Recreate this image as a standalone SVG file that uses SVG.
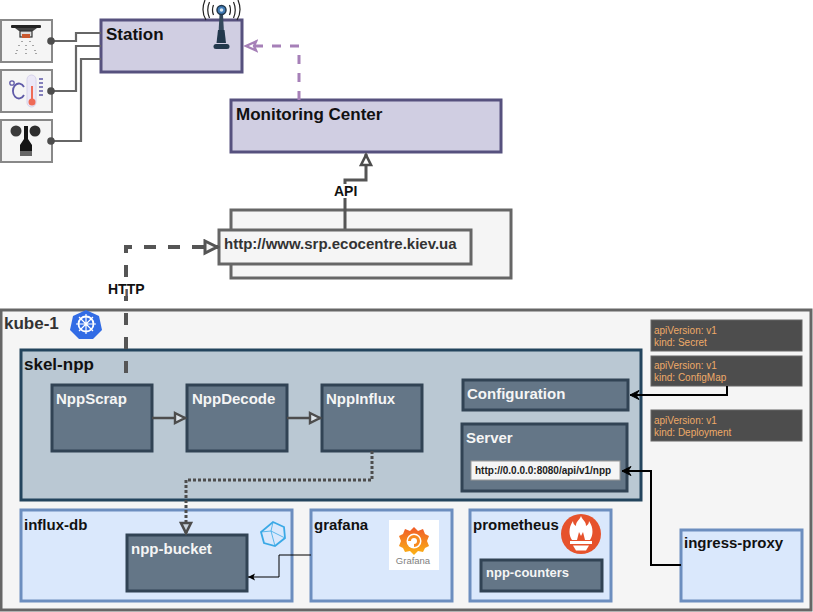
<svg xmlns="http://www.w3.org/2000/svg" width="813" height="612" viewBox="0 0 813 612">
<style>
text{font-family:"Liberation Sans",Arial,sans-serif;font-weight:bold}
.t15{font-size:15px}.t17{font-size:17px;fill:#111}
.w{fill:#f5f5f5;font-size:15px}
.icon{fill:#f5f5f5;stroke:#888;stroke-width:2}
.purple{fill:#d0cee2;stroke:#56517e;stroke-width:3}
.grey{fill:#f5f5f5;stroke:#666;stroke-width:3}
.slate{fill:#647687;stroke:#314354;stroke-width:3}
.blue{fill:#dae8fc;stroke:#6c8ebf;stroke-width:3}
.card{fill:#4d4d4d;stroke:#666;stroke-width:1}
.card-t{font-family:"Liberation Sans",Arial,sans-serif;font-weight:normal;font-size:10px;fill:#eeaa68}
.wire{fill:none;stroke:#666;stroke-width:2.200}
.c{fill:none}
</style>
<defs>
<marker id="open" markerWidth="16" markerHeight="16" refX="13" refY="7" orient="auto" markerUnits="userSpaceOnUse"><path d="M2 2L12 7L2 12Z" fill="#dfe6ec" stroke="#4d4d4d" stroke-width="2.400"/></marker>
<marker id="openW" markerWidth="16" markerHeight="16" refX="13" refY="7" orient="auto" markerUnits="userSpaceOnUse"><path d="M2 2L12 7L2 12Z" fill="#fff" stroke="#4d4d4d" stroke-width="2.600"/></marker>
<marker id="openP" markerWidth="16" markerHeight="16" refX="13" refY="7" orient="auto" markerUnits="userSpaceOnUse"><path d="M2 2.500L12 7L2 11.500L4 7Z" fill="#fff" stroke="#a680b8" stroke-width="2.400"/></marker>
<marker id="dark" markerWidth="18" markerHeight="18" refX="15" refY="8" orient="auto" markerUnits="userSpaceOnUse"><path d="M2 2L14 8L2 14Z" fill="#f5f5f5" stroke="#555" stroke-width="3"/></marker>
<marker id="dot" markerWidth="16" markerHeight="16" refX="13" refY="7" orient="auto" markerUnits="userSpaceOnUse"><path d="M2 2L12 7L2 12Z" fill="#c9d3dc" stroke="#4d4d4d" stroke-width="2.600"/></marker>
<marker id="bl" markerWidth="12" markerHeight="12" refX="10" refY="5" orient="auto" markerUnits="userSpaceOnUse"><path d="M1 0.500L10 5L1 9.500L4 5Z" fill="#000" stroke="#000"/></marker>
<marker id="blThin" markerWidth="10" markerHeight="10" refX="8" refY="4" orient="auto" markerUnits="userSpaceOnUse"><path d="M1 0.500L8 4L1 7.500L2.500 4Z" fill="#000"/></marker>
<linearGradient id="gf" x1="0" y1="1" x2="0" y2="0"><stop offset="0" stop-color="#fbb315"/><stop offset="1" stop-color="#f05a28"/></linearGradient>
</defs>

<g id="monitor-group">
<g id="station"><rect class="purple" x="101" y="20" width="141" height="52"/><text class="t17" x="106" y="40">Station</text>
<g id="antenna-icon">
<path d="M219.500 15L218 42H224.500L223 15Z" fill="#34495c"/>
<path d="M218 30L216.500 43H226L224.500 30Z" fill="#22384c"/>
<rect x="213.500" y="44" width="16" height="5" rx="2.500" fill="#22384c"/>
<circle cx="221.500" cy="10" r="4.500" fill="#3f7ab5" stroke="#22384c" stroke-width="1.500"/><circle cx="221.500" cy="10" r="1.800" fill="#d5e4f0"/>
<g fill="none" stroke="#222" stroke-width="1.200"><path d="M213.500 5Q211.500 10 213.500 15M229.500 5Q231.500 10 229.500 15M209.500 2Q206 10 209.500 18M233.500 2Q237 10 233.500 18M205 0Q200.500 11 206 20M238 0Q242.500 11 237 20"/></g>
</g></g>
<g id="sensor1"><rect class="icon" x="1" y="20" width="51" height="42"/>
<rect x="11" y="25" width="30" height="3" rx="1" fill="#222"/><path d="M15 28H37L33 31H19Z" fill="#444"/><rect x="20" y="31" width="12" height="6" fill="#ddd" stroke="#333" stroke-width="1.200"/><rect x="22" y="34" width="8" height="4" fill="#c9582e"/>
<path d="M22 41v1M30 41v1M19 45v1M26 45v1M33 45v1M17 50v1M26 49v1M35 50v1M16 53v1M26 53v1M36 53v1" stroke="#555" stroke-width="1" fill="none"/></g>
<g id="sensor2"><rect class="icon" x="1" y="70" width="51" height="42"/>
<circle cx="12" cy="83" r="2.200" fill="none" stroke="#5f5aa8" stroke-width="1.300"/><path d="M24 87A6 7.500 0 1 0 24 95" fill="none" stroke="#5f5aa8" stroke-width="1.800"/>
<rect x="27" y="75" width="9" height="32" rx="4.500" fill="#ebe8f7" stroke="#d6d2ea"/><circle cx="32" cy="102" r="3.500" fill="#ef6b57"/><rect x="31" y="86" width="2" height="15" fill="#ef6b57"/>
<path d="M39 79h4M39 83h4M39 87h4M39 91h4M39 95h4" stroke="#5f5aa8" stroke-width="1.500"/></g>
<g id="sensor3"><rect class="icon" x="1" y="120" width="51" height="42"/>
<circle cx="16" cy="131" r="5.500" fill="#3a3a3a"/><circle cx="35" cy="131" r="5.500" fill="#2e2e2e"/>
<path d="M24 126H28V139L32 145V151H20V145L24 139Z" fill="#151515"/><rect x="20" y="151" width="12" height="5" fill="#666"/></g>
<g id="monitoring-center"><rect class="purple" x="231" y="100" width="270" height="52"/><text class="t17" x="236" y="120">Monitoring Center</text></g>
<g id="site-frame"><rect class="grey" x="231" y="210" width="280" height="68"/></g>
</g>

<g id="connectors-top" class="c">
<path class="wire" d="M52 41H76V33H101"/>
<path class="wire" d="M52 91H76V46H101"/>
<path class="wire" d="M52 141H81V59H101"/>
<circle cx="51" cy="41" r="3.800" fill="#4d4d4d"/><circle cx="51" cy="91" r="3.800" fill="#4d4d4d"/><circle cx="51" cy="141" r="3.800" fill="#4d4d4d"/>
<path d="M299 100V46H245" stroke="#a680b8" stroke-width="3" stroke-dasharray="9 9" marker-end="url(#openP)"/>
<path d="M345 230V180H366V154" stroke="#555" stroke-width="3" marker-end="url(#openW)"/>
</g>
<g id="url-box"><rect class="grey" x="219" y="230" width="252" height="34"/><text x="224" y="249" font-size="15" fill="#333">http://www.srp.ecocentre.kiev.ua</text></g>
<text x="334" y="196" font-size="14" fill="#111" stroke="#fff" stroke-width="4" paint-order="stroke">API</text>

<g id="kube-1"><rect class="grey" x="1" y="310" width="810" height="300"/><text x="4" y="329" font-size="17" fill="#333">kube-1</text>
<g id="k8s-icon"><path d="M86 310L99 316L102 330L93 339H79L70 330L73 316Z" fill="#326ce5"/><circle cx="86" cy="324" r="7.500" fill="none" stroke="#fff" stroke-width="1.800"/><path d="M86 314V334M76 324H96M79 317L93 331M93 317L79 331" stroke="#fff" stroke-width="1.200"/></g>
</g>
<g id="cards">
<rect class="card" x="651" y="320" width="151" height="31"/><text class="card-t" x="654" y="334">apiVersion: v1</text><text class="card-t" x="654" y="346">kind: Secret</text>
<rect class="card" x="651" y="356" width="151" height="30"/><text class="card-t" x="654" y="369">apiVersion: v1</text><text class="card-t" x="654" y="381">kind: ConfigMap</text>
<rect class="card" x="651" y="410" width="151" height="31"/><text class="card-t" x="654" y="424">apiVersion: v1</text><text class="card-t" x="654" y="436">kind: Deployment</text>
</g>
<g id="skel-npp"><rect x="21" y="350" width="620" height="150" fill="#bac8d3" stroke="#23445d" stroke-width="3"/><text class="t17" x="24" y="370">skel-npp</text></g>
<g id="npp-scrap"><rect class="slate" x="52" y="385" width="100" height="66"/><text class="w" x="56" y="404">NppScrap</text></g>
<g id="npp-decode"><rect class="slate" x="187" y="385" width="100" height="66"/><text class="w" x="192" y="404">NppDecode</text></g>
<g id="npp-influx"><rect class="slate" x="322" y="385" width="100" height="66"/><text class="w" x="326" y="404">NppInflux</text></g>
<g id="configuration"><rect class="slate" x="463" y="380" width="165" height="30"/><text class="w" x="467" y="399">Configuration</text></g>
<g id="server"><rect class="slate" x="462" y="424" width="165" height="67"/><text class="w" x="466" y="443">Server</text>
<rect x="471" y="461" width="149" height="19" fill="#f5f5f5" stroke="#999"/><text x="475" y="474" font-size="10" fill="#222">http://0.0.0.0:8080/api/v1/npp</text></g>
<g id="influx-db"><rect class="blue" x="21" y="510" width="271" height="91"/><text class="t15" x="24" y="530" fill="#111">influx-db</text>
<g id="influx-icon" fill="none" stroke="#3aa9e6"><path d="M273 522L284 527L285 538L275 546L264 543L261 532Z" stroke-width="1.800"/><path d="M273 522L271 531L285 538M271 531L261 532M271 531L275 546" stroke-width="0.800"/></g></g>
<g id="npp-bucket"><rect class="slate" x="127" y="535" width="120" height="56"/><text class="w" x="131" y="554">npp-bucket</text></g>
<g id="grafana"><rect class="blue" x="311" y="510" width="141" height="91"/><text class="t15" x="314" y="530" fill="#111">grafana</text>
<g id="grafana-icon"><rect x="389" y="520" width="50" height="50" fill="#fff"/>
<path d="M414 527L418 531L423 529L425 534L429 536L427 541L429 546L425 548L423 552L418 551L414 555L410 551L405 552L403 548L399 546L401 541L399 536L403 534L405 529L410 531Z" fill="url(#gf)"/>
<circle cx="414" cy="541" r="7.500" fill="#fff"/><path d="M408 541A6 6 0 1 1 414 547L414 544A3 3 0 1 0 411 541Z" fill="#f78a1f"/>
<text x="413" y="564" text-anchor="middle" font-size="9.500" style="font-weight:normal" fill="#808080">Grafana</text></g></g>
<g id="prometheus"><rect class="blue" x="470" y="510" width="141" height="91"/><text class="t15" x="473" y="530" fill="#111">prometheus</text>
<g id="prometheus-icon"><circle cx="581" cy="534" r="20" fill="#e6522c"/><path d="M581 516C583 521 586 521 586 526C588 525 589 523 589 521C594 528 593 536 590 540H572C569 536 568 528 573 521C573 523 574 525 576 526C576 521 579 521 581 516Z" fill="#fff"/><path d="M577 540L579 532L581 536L583 532L585 540Z" fill="#e6522c"/><rect x="570" y="541" width="22" height="3" fill="#fff"/><path d="M573 545.500H589L586 550.500H576Z" fill="#fff"/></g>
<rect class="slate" x="481" y="560" width="121" height="31" stroke-width="2"/><text x="486" y="577" font-size="13" fill="#f5f5f5">npp-counters</text></g>
<g id="ingress-proxy"><rect class="blue" x="681" y="530" width="121" height="71"/><text class="t15" x="684" y="548" fill="#111">ingress-proxy</text></g>

<g id="connectors" fill="none">
<path d="M152 418H186" stroke="#4d4d4d" stroke-width="2.500" marker-end="url(#open)"/>
<path d="M287 418H321" stroke="#4d4d4d" stroke-width="2.500" marker-end="url(#open)"/>
<path d="M372 451V480H186V534" stroke="#4d4d4d" stroke-width="3" stroke-dasharray="3 2" marker-end="url(#dot)"/>
<path d="M311 555H279V577H248" stroke="#000" stroke-width="1" marker-end="url(#blThin)"/>
<path d="M727 386V395H630" stroke="#000" stroke-width="2" marker-end="url(#bl)"/>
<path d="M681 565H651V471H622" stroke="#000" stroke-width="2" marker-end="url(#bl)"/>
<path id="http-link" d="M126 373V247H218" stroke="#555" stroke-width="4" stroke-dasharray="12 12" marker-end="url(#dark)"/>
</g>
<text x="108" y="294" font-size="14" fill="#111" stroke="#fff" stroke-width="4" paint-order="stroke">HTTP</text>
</svg>
